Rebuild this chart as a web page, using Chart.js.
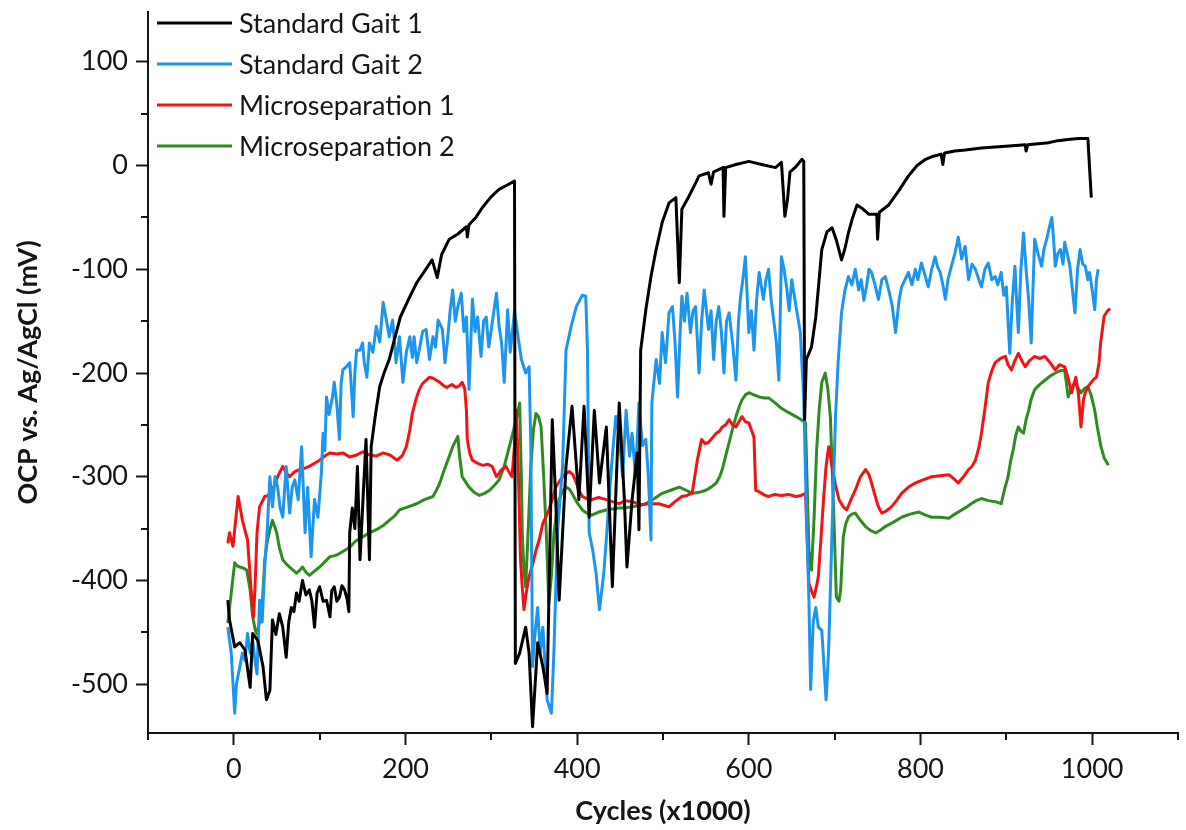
<!DOCTYPE html>
<html>
<head>
<meta charset="utf-8">
<script src="https://cdn.jsdelivr.net/npm/chart.js@4.4.1/dist/chart.umd.min.js"></script>
<style>
  html, body { margin: 0; padding: 0; background: #fff; }
  #wrap { width: 1186px; height: 830px; }
</style>
</head>
<body>
<div id="wrap"><canvas id="ocpChart" width="1186" height="830"></canvas></div>
<script>
/* ================= DATA ================= */
const seriesNames = ["Standard Gait 1", "Standard Gait 2", "Microseparation 1", "Microseparation 2"];
const seriesColors = ["#000000", "#1b95ee", "#f01414", "#2f8a1f"];

const xLabelValues = [0, 200, 400, 600, 800, 1000];
const yLabelValues = [-500, -400, -300, -200, -100, 0, 100];

// [cycles (x1000), OCP (mV)]
const gait1 = [[-7,-419],[-5,-438],[1,-464],[7,-460],[13,-467],[19,-503],[22,-451],[28,-458],[34,-483],[38,-515],[42,-506],[45,-438],[49,-452],[53,-432],[57,-445],[61,-474],[64,-440],[67,-426],[70,-430],[73,-412],[76,-420],[80,-400],[84,-414],[88,-409],[91,-420],[94,-445],[97,-412],[100,-406],[104,-420],[108,-419],[112,-435],[114,-410],[117,-406],[120,-420],[123,-416],[126,-405],[129,-409],[132,-418],[134,-430],[135,-354],[138,-330],[141,-350],[144,-290],[147,-380],[150,-330],[154,-264],[158,-380],[160,-271],[165,-240],[170,-213],[175,-200],[181,-187],[188,-165],[194,-146],[203,-130],[213,-113],[222,-102],[231,-91],[237,-108],[242,-86],[251,-71],[261,-66],[271,-59],[272,-69],[274,-57],[282,-50],[290,-40],[300,-30],[309,-23],[318,-19],[327,-15],[328,-480],[333,-470],[340,-445],[344,-470],[348,-541],[354,-460],[360,-483],[365,-509],[371,-245],[375,-322],[379,-419],[387,-290],[394,-232],[402,-322],[408,-232],[414,-339],[420,-236],[426,-306],[434,-252],[441,-406],[449,-229],[455,-322],[458,-387],[464,-322],[470,-277],[472,-351],[474,-178],[480,-139],[486,-107],[492,-81],[499,-55],[507,-36],[515,-31],[519,-113],[522,-42],[530,-30],[538,-17],[542,-10],[553,-7],[556,-18],[559,-6],[570,-2],[571,-49],[573,-2],[585,1],[600,4],[615,1],[631,-2],[638,3],[642,-49],[645,-33],[648,-6],[655,-1],[662,6],[664,4],[665,-245],[667,-187],[673,-175],[678,-146],[685,-81],[691,-64],[697,-60],[702,-72],[708,-91],[712,-80],[716,-65],[721,-50],[726,-38],[733,-42],[740,-47],[749,-47],[750,-71],[752,-45],[763,-38],[775,-24],[786,-10],[796,0],[806,6],[815,9],[824,11],[826,1],[828,12],[840,14],[852,15],[871,17],[891,18],[907,19],[922,20],[923,14],[925,20],[937,21],[949,22],[960,24],[972,25],[984,26],[995,26],[999,-31]];

const gait2 = [[-7,-445],[-3,-470],[1,-528],[3,-500],[7,-483],[10,-470],[13,-477],[16,-451],[19,-470],[22,-458],[25,-480],[27,-490],[30,-419],[33,-440],[36,-387],[39,-350],[42,-300],[45,-329],[48,-300],[51,-310],[54,-330],[57,-339],[61,-290],[65,-335],[68,-310],[71,-303],[75,-322],[79,-271],[83,-354],[86,-310],[90,-377],[94,-322],[98,-339],[102,-296],[104,-258],[106,-275],[108,-223],[111,-240],[115,-223],[117,-209],[120,-230],[123,-264],[125,-210],[127,-197],[131,-194],[135,-190],[137,-215],[139,-242],[141,-200],[143,-178],[147,-178],[150,-171],[152,-190],[155,-204],[158,-171],[162,-180],[166,-155],[170,-170],[174,-132],[178,-150],[181,-165],[185,-149],[189,-190],[193,-165],[197,-209],[201,-180],[205,-165],[208,-185],[210,-165],[213,-190],[216,-178],[220,-160],[224,-158],[228,-187],[232,-165],[235,-175],[238,-149],[243,-158],[246,-190],[249,-168],[252,-140],[255,-120],[258,-150],[261,-136],[265,-123],[268,-160],[271,-146],[274,-216],[278,-129],[281,-160],[284,-146],[288,-184],[291,-150],[294,-146],[297,-175],[300,-158],[303,-140],[306,-123],[309,-155],[312,-171],[315,-209],[319,-139],[322,-180],[324,-165],[327,-140],[329,-152],[332,-170],[335,-187],[340,-200],[344,-194],[346,-271],[348,-483],[351,-450],[354,-426],[357,-470],[360,-445],[365,-515],[370,-528],[373,-467],[377,-354],[383,-290],[387,-178],[393,-155],[399,-136],[406,-125],[410,-126],[412,-178],[414,-354],[418,-370],[422,-393],[426,-428],[431,-393],[434,-360],[437,-322],[441,-280],[445,-242],[449,-260],[453,-300],[457,-236],[461,-280],[464,-258],[468,-300],[472,-229],[476,-270],[480,-264],[483,-300],[486,-361],[487,-229],[492,-187],[496,-210],[499,-161],[503,-190],[507,-142],[511,-136],[514,-170],[517,-223],[520,-160],[522,-126],[525,-150],[528,-123],[532,-161],[535,-140],[538,-136],[542,-200],[545,-150],[548,-120],[553,-158],[556,-140],[559,-187],[562,-150],[565,-136],[568,-160],[571,-200],[574,-150],[577,-142],[581,-170],[585,-207],[588,-150],[590,-129],[593,-110],[596,-88],[600,-161],[603,-140],[606,-178],[609,-130],[612,-103],[617,-129],[620,-110],[623,-100],[626,-130],[629,-149],[632,-170],[635,-207],[638,-88],[641,-100],[644,-117],[647,-140],[650,-110],[655,-136],[660,-161],[664,-226],[667,-330],[670,-419],[672,-505],[675,-440],[678,-426],[681,-445],[685,-448],[690,-515],[693,-467],[697,-350],[701,-242],[704,-190],[708,-142],[712,-120],[716,-107],[720,-115],[724,-100],[728,-120],[731,-110],[734,-130],[737,-117],[740,-100],[743,-103],[747,-115],[751,-129],[755,-110],[759,-107],[763,-120],[767,-135],[771,-161],[775,-130],[778,-117],[782,-110],[786,-103],[790,-115],[794,-100],[797,-110],[801,-94],[805,-105],[809,-117],[813,-100],[817,-88],[820,-98],[823,-103],[826,-115],[829,-129],[832,-110],[835,-100],[840,-85],[844,-69],[848,-90],[852,-78],[856,-110],[860,-95],[864,-100],[868,-110],[871,-117],[875,-100],[879,-94],[883,-110],[887,-107],[890,-115],[894,-103],[897,-125],[900,-117],[902,-150],[904,-181],[907,-130],[910,-97],[912,-130],[914,-161],[917,-100],[920,-65],[923,-100],[926,-129],[929,-171],[931,-120],[933,-71],[937,-85],[941,-97],[944,-80],[947,-71],[950,-60],[953,-50],[955,-70],[957,-97],[960,-85],[963,-81],[966,-95],[968,-74],[971,-85],[974,-97],[977,-120],[980,-142],[983,-100],[986,-81],[989,-95],[992,-97],[995,-110],[997,-103],[1000,-120],[1003,-139],[1005,-110],[1007,-100]];

const micro1 = [[-7,-364],[-5,-354],[-1,-367],[5,-319],[10,-342],[16,-361],[21,-419],[23,-435],[25,-400],[27,-354],[30,-329],[36,-319],[40,-318],[45,-313],[51,-300],[57,-290],[61,-296],[65,-300],[71,-295],[77,-293],[82,-292],[88,-290],[94,-287],[100,-284],[106,-280],[112,-277],[120,-278],[127,-277],[135,-281],[143,-279],[150,-276],[158,-279],[166,-280],[174,-277],[182,-279],[190,-284],[196,-280],[201,-271],[205,-255],[208,-239],[212,-226],[216,-216],[220,-210],[224,-207],[228,-204],[232,-205],[236,-207],[240,-209],[244,-212],[248,-214],[254,-211],[259,-214],[263,-212],[266,-209],[269,-215],[271,-236],[272,-264],[275,-278],[278,-284],[284,-287],[290,-289],[296,-288],[301,-290],[306,-300],[311,-294],[317,-290],[321,-296],[324,-300],[327,-270],[329,-236],[331,-280],[334,-380],[336,-406],[338,-428],[341,-410],[344,-396],[348,-385],[352,-371],[356,-360],[360,-345],[364,-338],[367,-332],[371,-322],[375,-310],[379,-305],[383,-300],[387,-297],[391,-295],[395,-298],[399,-306],[402,-313],[406,-319],[411,-321],[417,-322],[425,-320],[434,-322],[441,-324],[449,-326],[456,-323],[464,-324],[474,-327],[484,-326],[495,-326],[507,-329],[514,-324],[522,-319],[528,-318],[534,-316],[537,-300],[540,-284],[545,-264],[549,-268],[553,-267],[558,-262],[562,-258],[566,-256],[569,-252],[573,-250],[577,-245],[581,-250],[585,-252],[589,-246],[592,-242],[596,-247],[600,-248],[603,-255],[606,-262],[608,-313],[611,-314],[615,-316],[619,-318],[623,-319],[630,-317],[638,-318],[646,-317],[655,-319],[661,-318],[666,-316],[668,-360],[670,-403],[673,-410],[676,-416],[679,-405],[681,-396],[684,-360],[687,-322],[690,-290],[693,-271],[697,-290],[701,-308],[705,-322],[710,-329],[714,-332],[719,-322],[724,-313],[730,-300],[736,-293],[740,-298],[743,-306],[747,-318],[751,-329],[755,-335],[760,-333],[766,-329],[772,-323],[778,-316],[786,-310],[794,-306],[803,-303],[813,-300],[823,-299],[833,-298],[839,-302],[844,-306],[850,-300],[856,-293],[860,-290],[864,-284],[868,-272],[871,-258],[875,-235],[879,-209],[883,-198],[887,-190],[893,-186],[899,-184],[902,-192],[906,-197],[910,-188],[914,-181],[918,-188],[922,-194],[927,-188],[933,-184],[939,-186],[945,-184],[951,-190],[957,-197],[962,-192],[968,-194],[972,-205],[976,-219],[981,-204],[984,-220],[987,-252],[990,-225],[992,-219],[996,-212],[999,-209],[1002,-206],[1005,-204],[1008,-190],[1010,-170],[1014,-145],[1018,-140],[1021,-138]];

const micro2 = [[-7,-441],[-3,-412],[1,-383],[4,-386],[7,-387],[11,-388],[15,-390],[19,-409],[22,-435],[25,-448],[27,-451],[30,-440],[33,-426],[36,-380],[39,-362],[42,-351],[45,-342],[50,-354],[53,-368],[57,-380],[61,-384],[65,-387],[69,-390],[73,-393],[77,-390],[80,-387],[84,-392],[88,-395],[94,-391],[100,-387],[106,-382],[112,-377],[118,-376],[123,-374],[129,-371],[135,-368],[142,-362],[150,-358],[158,-354],[166,-351],[174,-347],[181,-342],[187,-338],[193,-332],[203,-329],[213,-326],[222,-322],[232,-319],[236,-313],[240,-306],[244,-296],[248,-287],[252,-278],[255,-271],[258,-266],[261,-261],[263,-280],[266,-300],[270,-305],[274,-310],[280,-315],[286,-318],[292,-316],[298,-313],[304,-308],[309,-303],[315,-290],[321,-271],[325,-258],[329,-245],[333,-229],[335,-300],[336,-354],[338,-390],[340,-406],[343,-350],[346,-290],[349,-255],[352,-239],[355,-242],[358,-252],[361,-300],[364,-354],[367,-422],[370,-395],[373,-354],[376,-335],[379,-322],[383,-314],[387,-310],[391,-312],[394,-316],[400,-325],[406,-332],[411,-335],[417,-337],[425,-334],[434,-332],[441,-331],[449,-330],[456,-330],[464,-329],[472,-328],[480,-326],[490,-321],[499,-316],[509,-313],[519,-310],[527,-313],[534,-316],[542,-315],[550,-313],[556,-310],[562,-306],[566,-300],[569,-293],[573,-280],[577,-267],[581,-254],[585,-242],[589,-232],[592,-226],[596,-221],[600,-219],[606,-221],[612,-223],[618,-224],[623,-224],[631,-229],[638,-234],[646,-238],[655,-242],[661,-245],[666,-248],[668,-310],[670,-371],[673,-390],[676,-340],[679,-274],[682,-235],[685,-209],[689,-200],[692,-215],[695,-242],[697,-290],[699,-339],[702,-416],[705,-420],[707,-409],[710,-358],[713,-345],[716,-339],[720,-336],[724,-335],[730,-342],[736,-348],[742,-352],[748,-354],[754,-351],[759,-348],[768,-344],[778,-339],[788,-336],[798,-334],[806,-337],[813,-339],[823,-339],[833,-340],[840,-336],[848,-332],[854,-329],[859,-326],[865,-323],[871,-321],[879,-323],[887,-324],[891,-325],[894,-326],[898,-312],[902,-300],[905,-285],[908,-274],[911,-260],[914,-252],[917,-256],[920,-258],[923,-245],[926,-236],[929,-225],[933,-216],[939,-211],[945,-207],[951,-203],[957,-200],[962,-198],[968,-197],[970,-210],[972,-223],[976,-214],[980,-209],[984,-215],[987,-219],[991,-215],[995,-213],[999,-222],[1003,-236],[1006,-252],[1010,-270],[1014,-282],[1019,-289]];

const allSeries = [gait1, gait2, micro1, micro2];

/* ================= PLUGINS ================= */
const FONT = "Lato, 'Open Sans', sans-serif";
const TEXT = "#151515";

const isLabelled = (list, v) => list.includes(Math.round(v));

// short ticks for the unlabelled steps
const minorTicks = {
  id: "minorTicks",
  afterDraw(chart) {
    const { ctx, scales: { x, y } } = chart;
    ctx.save();
    ctx.strokeStyle = TEXT;
    ctx.lineWidth = 2;
    x.ticks.forEach(t => {
      if (isLabelled(xLabelValues, t.value)) return;
      const px = Math.round(x.getPixelForValue(t.value));
      ctx.beginPath();
      ctx.moveTo(px, x.top);
      ctx.lineTo(px, x.top + 7);
      ctx.stroke();
    });
    y.ticks.forEach(t => {
      if (isLabelled(yLabelValues, t.value)) return;
      const py = Math.round(y.getPixelForValue(t.value));
      ctx.beginPath();
      ctx.moveTo(y.right, py);
      ctx.lineTo(y.right - 7, py);
      ctx.stroke();
    });
    ctx.restore();
  }
};

// legend drawn inside the plot, top left
const insideLegend = {
  id: "insideLegend",
  afterDraw(chart) {
    const ctx = chart.ctx;
    ctx.save();
    ctx.font = "27px " + FONT;
    ctx.textBaseline = "middle";
    ctx.fillStyle = TEXT;
    chart.data.datasets.forEach((ds, i) => {
      const yy = 23 + i * 41;
      ctx.strokeStyle = ds.borderColor;
      ctx.lineWidth = 3;
      ctx.beginPath();
      ctx.moveTo(157, yy);
      ctx.lineTo(232, yy);
      ctx.stroke();
      ctx.fillText(ds.label, 239, yy + 1);
    });
    ctx.restore();
  }
};

/* ================= CHART ================= */
new Chart(document.getElementById("ocpChart"), {
  type: "line",
  data: {
    datasets: allSeries.map((pts, i) => ({
      label: seriesNames[i],
      data: pts.map(p => ({ x: p[0], y: p[1] })),
      borderColor: seriesColors[i],
      borderWidth: 3,
      pointRadius: 0,
      tension: 0,
      fill: false,
      borderJoinStyle: "round"
    }))
  },
  options: {
    responsive: false,
    animation: false,
    layout: { padding: { top: 12, right: 0, left: 0, bottom: 0 } },
    plugins: {
      legend: { display: false },
      tooltip: { enabled: false }
    },
    scales: {
      x: {
        type: "linear",
        min: -100,
        max: 1100,
        afterFit: s => { s.height = 97; },
        border: { color: TEXT, width: 2 },
        grid: {
          drawOnChartArea: false,
          tickLength: 12,
          tickWidth: 2,
          tickColor: c => isLabelled(xLabelValues, c.tick.value) ? TEXT : "rgba(0,0,0,0)"
        },
        ticks: {
          stepSize: 100,
          includeBounds: false,
          autoSkip: false,
          maxRotation: 0,
          padding: 8,
          color: TEXT,
          font: { family: FONT, size: 27 },
          callback: v => isLabelled(xLabelValues, v) ? String(Math.round(v)) : ""
        },
        title: {
          display: true,
          text: "Cycles (x1000)",
          color: TEXT,
          font: { family: FONT, size: 27, weight: "bold" },
          padding: { top: 0, bottom: 3 }
        }
      },
      y: {
        type: "linear",
        min: -547,
        max: 148,
        afterFit: s => {
          s.width = 148;
          s.paddingTop = 0;
          s.paddingBottom = 0;
        },
        border: { color: TEXT, width: 2 },
        grid: {
          drawOnChartArea: false,
          tickLength: 12,
          tickWidth: 2,
          tickColor: c => isLabelled(yLabelValues, c.tick.value) ? TEXT : "rgba(0,0,0,0)"
        },
        ticks: {
          stepSize: 50,
          includeBounds: false,
          autoSkip: false,
          padding: 8,
          color: TEXT,
          font: { family: FONT, size: 27 },
          callback: v => isLabelled(yLabelValues, v) ? String(Math.round(v)) : ""
        },
        title: {
          display: true,
          text: "OCP vs. Ag/AgCl (mV)",
          color: TEXT,
          font: { family: FONT, size: 27, weight: "bold" },
          padding: { top: 12, bottom: 0 }
        }
      }
    }
  },
  plugins: [minorTicks, insideLegend]
});
</script>
</body>
</html>
